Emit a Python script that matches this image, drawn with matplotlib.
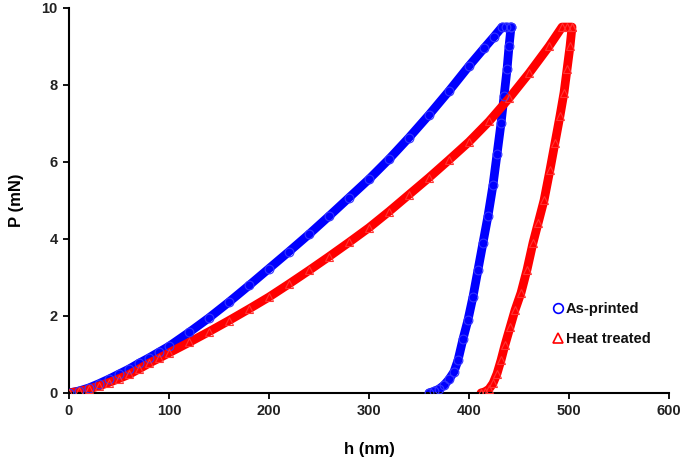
import matplotlib
matplotlib.use("Agg")
import matplotlib.pyplot as plt
from matplotlib.lines import Line2D

plt.rcParams['font.family'] = ['Liberation Sans', 'DejaVu Sans']

# As-printed: loading, hold, unloading (h in nm, P in mN)
ap_load_h = [0, 10, 20, 30, 40, 50, 60, 70, 80, 90, 100, 120, 140, 160, 180, 200,
             220, 240, 260, 280, 300, 320, 340, 360, 380, 400, 415, 425, 433]
ap_load_p = [0, 0.05, 0.13, 0.24, 0.36, 0.49, 0.62, 0.77, 0.91, 1.06, 1.21, 1.57, 1.95,
             2.36, 2.79, 3.23, 3.67, 4.12, 4.59, 5.07, 5.55, 6.07, 6.63, 7.22, 7.84,
             8.49, 8.95, 9.25, 9.5]
ap_hold_h = [437, 442]
ap_hold_p = [9.5, 9.5]
ap_unload_h = [442, 440, 438, 435, 432, 428, 424, 419, 414, 409, 404, 399, 394, 389,
               385, 380, 375, 370, 365, 360]
ap_unload_p = [9.5, 9.0, 8.4, 7.7, 7.0, 6.2, 5.4, 4.6, 3.9, 3.2, 2.5, 1.9, 1.4, 0.85,
               0.55, 0.35, 0.2, 0.1, 0.04, 0.0]

# Heat treated
ht_load_h = [0, 10, 20, 30, 40, 50, 60, 70, 80, 90, 100, 120, 140, 160, 180, 200,
             220, 240, 260, 280, 300, 320, 340, 360, 380, 400, 420, 440, 460, 480, 493]
ht_load_p = [0, 0.04, 0.10, 0.18, 0.27, 0.37, 0.48, 0.62, 0.77, 0.90, 1.04, 1.31, 1.59,
             1.88, 2.18, 2.49, 2.83, 3.18, 3.54, 3.91, 4.29, 4.71, 5.15, 5.59, 6.05,
             6.52, 7.05, 7.65, 8.30, 9.00, 9.5]
ht_hold_h = [498, 503]
ht_hold_p = [9.5, 9.5]
ht_unload_h = [503, 501, 498, 495, 491, 486, 481, 475, 469, 464, 458, 452, 446, 441,
               436, 432, 428, 424, 420, 416, 412]
ht_unload_p = [9.5, 9.0, 8.4, 7.8, 7.2, 6.5, 5.8, 5.0, 4.4, 3.9, 3.2, 2.6, 2.15, 1.7,
               1.25, 0.85, 0.5, 0.25, 0.1, 0.03, 0.0]

labels = ["As-printed", "Heat treated"]
colors = ["#0000ff", "#ff0000"]

fig = plt.figure(figsize=(6.85, 4.59), dpi=100)
ax = fig.add_axes([0.1007, 0.144, 0.876, 0.839])

ap_h = ap_load_h + ap_hold_h + ap_unload_h
ap_p = ap_load_p + ap_hold_p + ap_unload_p
ht_h = ht_load_h + ht_hold_h + ht_unload_h
ht_p = ht_load_p + ht_hold_p + ht_unload_p

ax.plot(ap_h, ap_p, color=colors[0], lw=6.3, solid_capstyle='round',
        solid_joinstyle='round', zorder=2)
ax.plot(ap_h, ap_p, ls='none', marker='o', ms=6.3, mfc='none', mec='#3333ff',
        mew=0.8, zorder=3)
ax.plot(ht_h, ht_p, color=colors[1], lw=6.3, solid_capstyle='round',
        solid_joinstyle='round', zorder=2)
ax.plot(ht_h, ht_p, ls='none', marker='^', ms=6.3, mfc='none', mec='#ff3333',
        mew=0.8, zorder=3)

ax.set_xlim(0, 600)
ax.set_ylim(0, 10)
ax.set_xticks([0, 100, 200, 300, 400, 500, 600])
ax.set_yticks([0, 2, 4, 6, 8, 10])

for s in ['top', 'right']:
    ax.spines[s].set_visible(False)
for s in ['left', 'bottom']:
    ax.spines[s].set_linewidth(1.5)
    ax.spines[s].set_color('black')

ax.tick_params(axis='both', direction='out', length=4, width=1.3, colors='black',
               labelsize=10.5, pad=4)
for lab in ax.get_xticklabels() + ax.get_yticklabels():
    lab.set_fontweight('bold')
    lab.set_color('#222222')

ax.set_xlabel("h (nm)", fontsize=12, fontweight='bold', labelpad=17)
ax.set_ylabel("P (mN)", fontsize=12, fontweight='bold', labelpad=13)

handles = [Line2D([], [], ls='none', marker='o', ms=7, mfc='none', mec=colors[0], mew=1.2),
           Line2D([], [], ls='none', marker='^', ms=7, mfc='none', mec=colors[1], mew=1.2)]
leg = ax.legend(handles, labels, loc='upper left', bbox_to_anchor=(0.795, 0.254),
                frameon=False, handlelength=0.6, handletextpad=0.25,
                labelspacing=1.05, borderpad=0,
                prop={'weight': 'bold', 'size': 10.5})
for t in leg.get_texts():
    t.set_color('#111111')

fig.savefig("out.png", dpi=100)
